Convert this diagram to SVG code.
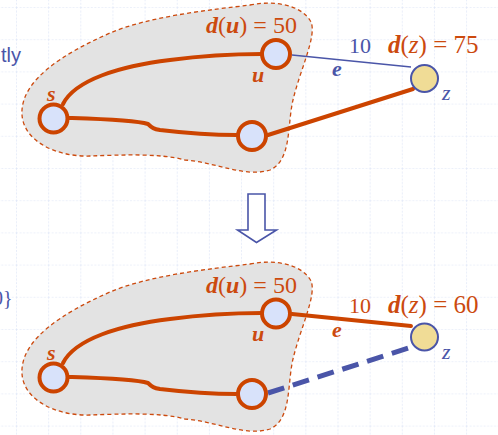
<svg xmlns="http://www.w3.org/2000/svg" width="498" height="435" viewBox="0 0 498 435">
<defs>
<pattern id="grid" x="16" y="7" width="32.15" height="32.2" patternUnits="userSpaceOnUse">
<line x1="0" y1="0" x2="32.15" y2="0" stroke="#d9e2f6" stroke-width="1.2" stroke-dasharray="2 1.5"/>
<line x1="0" y1="0" x2="0" y2="32.2" stroke="#d9e2f6" stroke-width="1.2" stroke-dasharray="2 1.5"/>
</pattern>
</defs>
<style>
.blob{fill:#e3e3e3;stroke:#cc4a0e;stroke-width:1.3;stroke-dasharray:4 3}
.oe{fill:none;stroke:#cc4400;stroke-width:4;stroke-linecap:round}
.be{fill:none;stroke:#4a55a8;stroke-width:1.5}
.bd{fill:none;stroke:#4a55a8;stroke-width:5;stroke-dasharray:17 9}
.n{fill:#d8e2fa;stroke:#cc4400;stroke-width:4}
.zn{fill:#f0dc96;stroke:#4a55a8;stroke-width:2}
.t{font-family:"Liberation Serif",serif;font-size:22px}
.d{font-size:24px}
.dz{font-size:25px}
.o{fill:#cc4a0e}
.b{fill:#4a55a8}
.bi{font-weight:bold;font-style:italic}
.i{font-style:italic}
</style>
<rect width="498" height="435" fill="#ffffff"/>
<rect width="498" height="435" fill="url(#grid)"/>
<text x="1" y="62" font-family="Liberation Sans,sans-serif" font-size="20" fill="#4a55a8">tly</text>
<text x="-7" y="305" font-family="Liberation Serif,serif" font-size="20" fill="#4a55a8">0}</text>

<g id="cloud-top"><path class="blob" d="M250,5 C275,0 302,5 311,22 C317,36 300,70 293,100 C287,125 292,160 270,170 C245,178 215,162 185,160 C160,153 120,155 90,156 C55,157 20,140 22,110 C24,80 60,55 110,33 C150,16 210,10 250,5 Z"/></g>
<g id="cloud-bottom"><path class="blob" d="M250,264 C275,259 302,264 311,281 C317,295 300,329 293,359 C287,384 292,419 270,429 C245,437 215,421 185,419 C160,412 120,414 90,415 C55,416 20,399 22,369 C24,339 60,314 110,292 C150,275 210,269 250,264 Z"/></g>

<g id="arrow"><path d="M248,194 L265,194 L265,230 L276.5,230 L256.5,242.5 L237.5,230 L248,230 Z" fill="#ffffff" stroke="#4a55a8" stroke-width="1.6" stroke-linejoin="miter"/></g>

<g id="connectors">
<path class="oe" d="M63,104 C75,80 120,66 170,60 C200,56 230,54 262,54"/>
<path class="oe" d="M69,118 C100,119 135,120 148,124 C152,128 154,129 160,130 C185,133 215,135 237,135"/>
<path class="be" d="M292,55 L411,67"/>
<path class="oe" d="M268,135 L413,89"/>
<path class="oe" d="M63,363 C75,339 120,325 170,319 C200,315 230,313 262,313"/>
<path class="oe" d="M69,377 C100,378 135,379 148,383 C152,387 154,388 160,389 C185,392 215,394 237,394"/>
<path class="oe" d="M292,314 L411,326"/>
<path class="bd" d="M268,393 L415,346"/>
</g>

<g id="s-top"><circle class="n" cx="53.5" cy="118.5" r="14"/><text class="t o bi" x="47" y="101" font-size="20">s</text></g>
<g id="v-top"><circle class="n" cx="252" cy="136" r="14"/></g>
<g id="u-top"><circle class="n" cx="276" cy="54" r="14"/><text class="t o bi" x="252" y="82">u</text></g>
<g id="z-top"><circle class="zn" cx="424.5" cy="78.5" r="13.5"/><text class="t b i" x="442" y="100">z</text></g>
<g id="label-top">
<text class="t d o" x="206" y="33"><tspan class="bi">d</tspan>(<tspan class="bi">u</tspan>) = 50</text>
<text class="t b" x="349" y="53">10</text>
<text class="t dz o" x="388" y="53"><tspan class="bi">d</tspan>(<tspan class="i">z</tspan>) = 75</text>
<text class="t b bi" x="332" y="76">e</text>
</g>

<g id="s-bottom"><circle class="n" cx="53.5" cy="377.5" r="14"/><text class="t o bi" x="47" y="360" font-size="20">s</text></g>
<g id="v-bottom"><circle class="n" cx="252" cy="394" r="14"/></g>
<g id="u-bottom"><circle class="n" cx="276" cy="313.5" r="14"/><text class="t o bi" x="252" y="341">u</text></g>
<g id="z-bottom"><circle class="zn" cx="424.5" cy="337" r="13.5"/><text class="t b i" x="442" y="359">z</text></g>
<g id="label-bottom">
<text class="t d o" x="206" y="293"><tspan class="bi">d</tspan>(<tspan class="bi">u</tspan>) = 50</text>
<text class="t o" x="349" y="313">10</text>
<text class="t dz o" x="388" y="313"><tspan class="bi">d</tspan>(<tspan class="i">z</tspan>) = 60</text>
<text class="t o bi" x="332" y="337">e</text>
</g>
</svg>
